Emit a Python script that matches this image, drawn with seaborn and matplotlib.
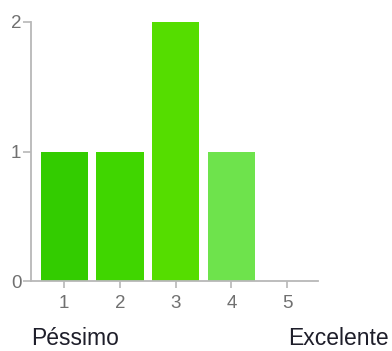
import matplotlib
matplotlib.use("Agg")
import matplotlib.pyplot as plt
import seaborn as sns
import pandas as pd

# Rating scale responses
ratings = ["1", "2", "3", "4", "5"]
counts = [1, 1, 2, 1, 0]
bar_colors = ["#33cc00", "#40d600", "#55dd00", "#6ee34c", "#8ae87a"]
y_ticks = [0, 1, 2]
low_label = "Péssimo"
high_label = "Excelente"

sns.set_theme(style="white")
plt.rcParams["font.family"] = ["Liberation Sans", "DejaVu Sans"]

df = pd.DataFrame({"rating": ratings, "count": counts})

fig = plt.figure(figsize=(3.92, 3.51), dpi=100)
ax = fig.add_axes([31 / 392, 1 - 281 / 351, (318 - 31) / 392, (281 - 22) / 351])

sns.barplot(data=df, x="rating", y="count", hue="rating", palette=bar_colors,
            order=ratings, hue_order=ratings, legend=False, width=0.85,
            saturation=1, linewidth=0, ax=ax)

ax.set_xlim(-0.598, 4.557)
ax.set_ylim(0, 2)
ax.set_yticks(y_ticks)
ax.set_xlabel("")
ax.set_ylabel("")

for side in ["top", "right"]:
    ax.spines[side].set_visible(False)
for side in ["left", "bottom"]:
    ax.spines[side].set_color("#b8b8b8")
    ax.spines[side].set_linewidth(1.3)

ax.tick_params(axis="both", colors="#b8b8b8", labelcolor="#707070",
               labelsize=13.5, width=1.2)
ax.tick_params(axis="x", length=5, pad=5, direction="out", bottom=True)
ax.tick_params(axis="y", length=6, pad=1, direction="out", left=True)

fig.text(31 / 392, 1 - 345 / 351, low_label, ha="left", va="baseline",
         fontsize=16.5, color="#1e1e2a")
fig.text(389 / 392, 1 - 345 / 351, high_label, ha="right", va="baseline",
         fontsize=16.5, color="#1e1e2a")

fig.savefig("out.png", dpi=100)
